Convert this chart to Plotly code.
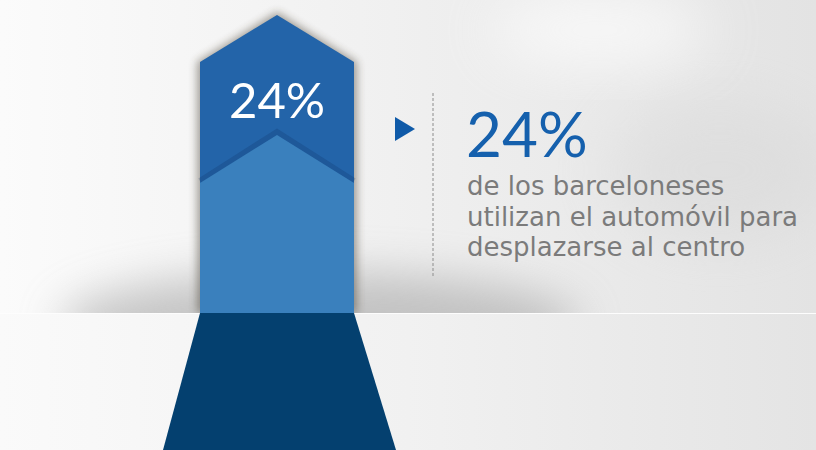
import base64
import plotly.graph_objects as go

# ---- data ----
share_pct = [24]                      # % of Barcelona residents using the car to go downtown
value_suffix = ["%"]
description_lines = [
    "de los barceloneses",
    "utilizan el automóvil para",
    "desplazarse al centro",
]

W, H = 816, 450
value_text = f"{share_pct[0]}{value_suffix[0]}"

# ---- background (decorative) ----
svg = f'''<svg xmlns="http://www.w3.org/2000/svg" width="{W}" height="{H}" viewBox="0 0 {W} {H}">
<defs>
<linearGradient id="top" x1="0" y1="0" x2="1" y2="0">
<stop offset="0" stop-color="#fbfbfb"/><stop offset="0.4" stop-color="#f2f2f2"/><stop offset="1" stop-color="#e3e3e3"/>
</linearGradient>
<linearGradient id="bot" x1="0" y1="0" x2="1" y2="0">
<stop offset="0" stop-color="#fafafa"/><stop offset="0.5" stop-color="#f1f1f1"/><stop offset="1" stop-color="#e4e4e4"/>
</linearGradient>
<clipPath id="c"><rect width="{W}" height="313"/></clipPath>
<filter id="b" x="-50%" y="-50%" width="200%" height="200%"><feGaussianBlur stdDeviation="22"/></filter>
<filter id="b2" x="-50%" y="-50%" width="200%" height="200%"><feGaussianBlur stdDeviation="4"/></filter>
<filter id="b3" x="-50%" y="-50%" width="200%" height="200%"><feGaussianBlur stdDeviation="30"/></filter>
</defs>
<rect width="{W}" height="313" fill="url(#top)"/>
<rect y="313" width="{W}" height="{H-313}" fill="url(#bot)"/>
<g clip-path="url(#c)">
<ellipse cx="320" cy="324" rx="260" ry="52" fill="#a5a5a5" opacity="0.6" filter="url(#b)"/>
<ellipse cx="720" cy="170" rx="110" ry="70" fill="#d6d6d6" opacity="0.45" filter="url(#b3)"/>
<ellipse cx="600" cy="30" rx="110" ry="35" fill="#ffffff" opacity="0.7" filter="url(#b3)"/>
<path d="M 197,313 L 197,62 L 277,12 L 357,62 L 357,313 Z" fill="#3a3020" opacity="0.45" filter="url(#b2)"/>
</g>
<line x1="0" y1="313.5" x2="{W}" y2="313.5" stroke="#fdfdfd" stroke-width="1"/>
</svg>'''
bg_src = "data:image/svg+xml;base64," + base64.b64encode(svg.encode("utf-8")).decode("ascii")

fig = go.Figure()

shapes = [
    # arrow upper (dark)
    dict(type="path", path="M 200,313 L 200,62 L 277,15 L 354,62 L 354,313 Z",
         fillcolor="#2364a9", line=dict(width=0), layer="above"),
    # soft shadow above inner chevron
    dict(type="path", path="M 200,181 L 277,132 L 354,181",
         fillcolor="rgba(0,0,0,0)", line=dict(color="rgba(15,45,95,0.22)", width=6), layer="above"),
    # arrow lower (light)
    dict(type="path", path="M 200,313 L 200,183 L 277,135 L 354,183 L 354,313 Z",
         fillcolor="#3a80bd", line=dict(width=0), layer="above"),
    # floor trapezoid
    dict(type="path", path="M 200,313 L 354,313 L 396,450 L 163,450 Z",
         fillcolor="#04406f", line=dict(width=0), layer="above"),
    # pointer triangle
    dict(type="path", path="M 395,117 L 415,129 L 395,141 Z",
         fillcolor="#0f5aa8", line=dict(width=0), layer="above"),
    # dashed separator
    dict(type="line", x0=433, x1=433, y0=93, y1=277,
         line=dict(color="#8c8c8c", width=1, dash="3px,2px"), layer="above"),
]

annotations = [
    dict(x=277, y=99, text=value_text, showarrow=False, xanchor="center", yanchor="middle",
         font=dict(family="Lato", size=49, color="#ffffff", weight=400)),
    dict(x=464, y=133, text=value_text, showarrow=False, xanchor="left", yanchor="middle",
         font=dict(family="Lato", size=62, color="#1560ad", weight=400)),
]
line_y = [186, 216.5, 247]
for txt, yy in zip(description_lines, line_y):
    annotations.append(dict(x=465, y=yy, text=txt, showarrow=False, xanchor="left", yanchor="middle",
                            font=dict(family="DejaVu Sans", size=26, color="#7b7b7b")))

fig.update_layout(
    width=W, height=H,
    margin=dict(l=0, r=0, t=0, b=0),
    paper_bgcolor="#ffffff", plot_bgcolor="rgba(0,0,0,0)",
    xaxis=dict(range=[0, W], visible=False, showgrid=False, zeroline=False, fixedrange=True),
    yaxis=dict(range=[H, 0], visible=False, showgrid=False, zeroline=False, fixedrange=True),
    shapes=shapes, annotations=annotations, showlegend=False,
    images=[dict(source=bg_src, xref="paper", yref="paper", x=0, y=1, sizex=1, sizey=1,
                 xanchor="left", yanchor="top", sizing="stretch", layer="below")],
)

fig.write_html("out.html", config={"displayModeBar": False},
               post_script="document.body.style.margin='0';document.body.style.overflow='hidden';")

with open("out.html", "r", encoding="utf-8") as f:
    html = f.read()
html = html.replace("<head>", "<head><style>html,body{margin:0;padding:0;overflow:hidden;}</style>", 1)
with open("out.html", "w", encoding="utf-8") as f:
    f.write(html)
